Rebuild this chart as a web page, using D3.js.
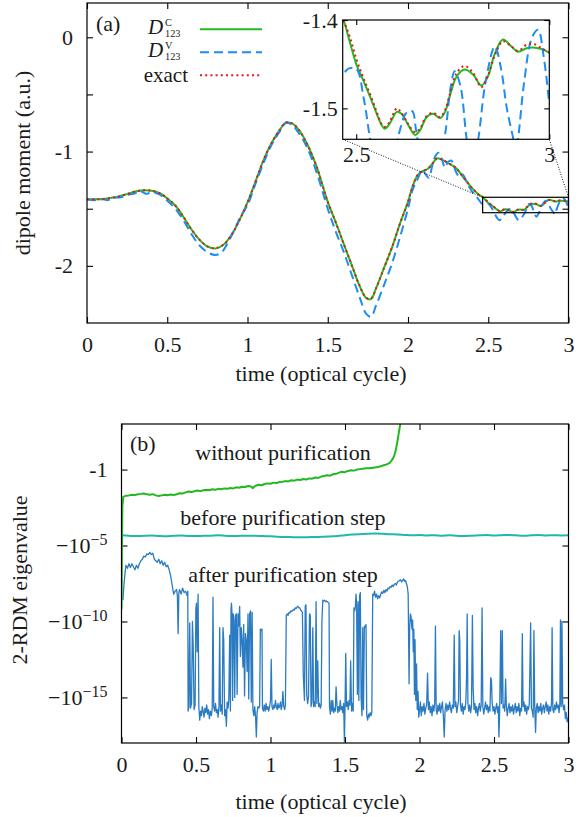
<!DOCTYPE html>
<html>
<head>
<meta charset="utf-8">
<script src="https://cdn.jsdelivr.net/npm/d3@7"></script>
<style>
  body { margin: 0; background: #fff; }
  text { font-family: "Liberation Serif", "Times New Roman", serif; fill: #1a1a1a; }
</style>
</head>
<body>
<svg id="chart" width="583" height="817"></svg>
<script>
// ---------- Panel (a): dipole moment vs time ----------
// time grid shared by D123^C and the exact curve
const timeC = [0,0.05,0.10,0.15,0.20,0.25,0.30,0.35,0.40,0.45,0.50,0.55,0.60,0.65,0.70,0.75,0.80,0.85,0.90,0.95,1.00,1.05,1.10,1.15,1.20,
  1.24,1.28,1.32,1.37,1.43,1.50,1.55,1.60,1.65,1.70,1.74,1.77,1.80,1.85,1.90,1.95,2.00,
  2.03,2.06,2.09,2.12,2.15,2.18,2.21,2.25,2.30,2.35,2.40,2.44,
  2.467,2.484,2.501,2.518,2.536,2.553,2.566,2.574,2.587,2.605,2.617,2.635,2.652,2.665,2.682,2.699,2.717,2.730,2.743,2.760,
  2.781,2.803,2.824,2.841,2.859,2.880,2.902,2.919,2.941,2.958,2.980,3.0];
const dipoleC = [-1.417,-1.418,-1.415,-1.405,-1.392,-1.372,-1.350,-1.338,-1.342,-1.362,-1.410,-1.472,-1.570,-1.680,-1.770,-1.830,-1.848,-1.815,-1.730,-1.600,-1.445,-1.262,-1.075,-0.925,-0.812,
  -0.745,-0.755,-0.810,-0.930,-1.130,-1.440,-1.620,-1.810,-1.995,-2.180,-2.282,-2.290,-2.200,-2.020,-1.840,-1.630,-1.440,
  -1.300,-1.205,-1.170,-1.155,-1.110,-1.060,-1.070,-1.100,-1.145,-1.235,-1.320,-1.375,
  -1.400,-1.426,-1.451,-1.468,-1.487,-1.506,-1.519,-1.523,-1.517,-1.504,-1.506,-1.519,-1.530,-1.525,-1.510,-1.506,-1.511,-1.504,-1.485,-1.464,
  -1.456,-1.462,-1.474,-1.464,-1.438,-1.422,-1.430,-1.436,-1.432,-1.431,-1.433,-1.437];
const dipoleExact = [-1.417,-1.418,-1.415,-1.405,-1.392,-1.372,-1.350,-1.338,-1.342,-1.362,-1.410,-1.472,-1.570,-1.680,-1.770,-1.830,-1.845,-1.815,-1.730,-1.600,-1.445,-1.262,-1.075,-0.925,-0.812,
  -0.745,-0.755,-0.810,-0.930,-1.130,-1.440,-1.620,-1.810,-1.995,-2.180,-2.280,-2.285,-2.200,-2.020,-1.840,-1.630,-1.440,
  -1.300,-1.205,-1.170,-1.155,-1.110,-1.060,-1.070,-1.100,-1.145,-1.235,-1.320,-1.375,
  -1.400,-1.420,-1.445,-1.465,-1.484,-1.504,-1.518,-1.521,-1.515,-1.500,-1.505,-1.518,-1.527,-1.523,-1.509,-1.505,-1.510,-1.502,-1.483,-1.460,
  -1.452,-1.460,-1.476,-1.463,-1.440,-1.424,-1.430,-1.435,-1.428,-1.427,-1.432,-1.437];

// D123^V on its own time grid
const timeV = [0,0.05,0.10,0.13,0.17,0.21,0.25,0.30,0.33,0.37,0.40,0.45,0.50,0.55,0.60,0.65,0.70,0.75,0.80,0.84,0.88,0.92,0.96,1.00,
  1.05,1.10,1.15,1.20,1.24,1.28,1.32,1.37,1.43,1.50,1.55,1.60,1.65,1.70,1.74,1.77,1.80,1.85,1.90,1.95,2.00,
  2.03,2.06,2.09,2.11,2.13,2.15,2.17,2.19,2.21,2.23,2.25,2.27,2.30,2.32,2.34,2.37,2.40,2.43,
  2.465,2.48,2.50,2.52,2.54,2.57,2.59,2.61,2.63,2.645,2.655,2.67,2.69,2.71,2.73,2.745,2.755,2.77,2.786,2.80,2.816,
  2.835,2.859,2.875,2.89,2.907,2.913,2.919,2.935,2.955,2.971,2.985,3.0];
const dipoleV = [-1.420,-1.425,-1.418,-1.425,-1.405,-1.400,-1.380,-1.365,-1.345,-1.370,-1.355,-1.375,-1.430,-1.500,-1.600,-1.720,-1.820,-1.880,-1.905,-1.880,-1.790,-1.680,-1.560,-1.470,
  -1.280,-1.100,-0.940,-0.825,-0.750,-0.770,-0.840,-0.960,-1.180,-1.500,-1.700,-1.880,-2.080,-2.280,-2.420,-2.445,-2.350,-2.170,-1.980,-1.750,-1.500,
  -1.330,-1.240,-1.160,-1.200,-1.230,-1.130,-1.040,-1.010,-1.060,-1.140,-1.090,-1.080,-1.180,-1.220,-1.200,-1.280,-1.350,-1.400,
  -1.460,-1.455,-1.455,-1.490,-1.545,-1.600,-1.575,-1.530,-1.505,-1.503,-1.525,-1.565,-1.600,-1.575,-1.530,-1.475,-1.458,-1.475,-1.535,-1.570,-1.535,
  -1.470,-1.430,-1.455,-1.500,-1.535,-1.550,-1.535,-1.470,-1.420,-1.411,-1.440,-1.495];

const xTicksA = [0,0.5,1,1.5,2,2.5,3];
const yTicksA = [0,-0.5,-1,-1.5,-2];
const xTicksInset = [2.5,3];
const yTicksInset = [-1.4,-1.5];

// ---------- Panel (b): 2-RDM eigenvalue (stored as log10 of |eigenvalue|; eigenvalues are negative) ----------
const withoutPurif = [[0.000,-9.2],[0.003,-5.0],[0.006,-2.4],[0.012,-1.80],[0.03,-1.72],[0.05,-1.70],[0.07,-1.66],[0.09,-1.68],[0.11,-1.62],[0.13,-1.60],
  [0.15,-1.57],[0.17,-1.63],[0.19,-1.66],[0.21,-1.62],[0.23,-1.70],[0.25,-1.74],[0.27,-1.70],[0.29,-1.66],[0.31,-1.69],[0.33,-1.64],[0.35,-1.67],
  [0.37,-1.62],[0.39,-1.56],[0.41,-1.58],[0.43,-1.50],[0.45,-1.44],[0.47,-1.47],[0.49,-1.43],[0.51,-1.38],[0.53,-1.42],[0.55,-1.36],[0.57,-1.33],
  [0.59,-1.36],[0.61,-1.30],[0.63,-1.33],[0.65,-1.27],[0.67,-1.30],[0.69,-1.24],[0.71,-1.27],[0.73,-1.21],[0.75,-1.24],[0.77,-1.17],[0.79,-1.20],
  [0.81,-1.13],[0.83,-1.15],[0.85,-1.08],[0.87,-1.12],[0.88,-1.22],[0.90,-1.06],[0.92,-1.00],[0.94,-1.03],[0.96,-0.95],[0.98,-0.91],[1.00,-0.93],
  [1.02,-0.86],[1.04,-0.89],[1.06,-0.82],[1.08,-0.80],[1.10,-0.76],[1.12,-0.78],[1.14,-0.70],[1.16,-0.73],[1.18,-0.66],[1.20,-0.69],[1.22,-0.62],
  [1.24,-0.65],[1.26,-0.58],[1.28,-0.60],[1.30,-0.52],[1.32,-0.55],[1.34,-0.46],[1.36,-0.42],[1.38,-0.38],[1.40,-0.40],[1.42,-0.31],[1.44,-0.28],
  [1.46,-0.20],[1.48,-0.14],[1.50,-0.17],[1.52,-0.09],[1.54,-0.04],[1.56,-0.07],[1.58,0.00],[1.60,0.03],[1.62,0.06],[1.64,0.09],[1.66,0.08],
  [1.68,0.11],[1.70,0.14],[1.72,0.17],[1.74,0.22],[1.76,0.28],[1.78,0.34],[1.80,0.44],[1.81,0.56],[1.82,0.70],[1.83,0.90],[1.84,1.25],
  [1.85,1.75],[1.86,2.35],[1.87,2.95],[1.875,3.3]];

const beforeStep = [[0.000,-4.33],[0.05,-4.36],[0.10,-4.38],[0.15,-4.36],[0.20,-4.34],[0.25,-4.37],[0.30,-4.39],[0.35,-4.36],[0.40,-4.34],
  [0.45,-4.37],[0.50,-4.38],[0.55,-4.36],[0.60,-4.35],[0.65,-4.33],[0.70,-4.36],[0.75,-4.38],[0.80,-4.36],[0.85,-4.35],[0.90,-4.36],
  [0.95,-4.38],[1.00,-4.39],[1.05,-4.42],[1.10,-4.44],[1.15,-4.45],[1.20,-4.46],[1.25,-4.45],[1.30,-4.44],[1.35,-4.43],[1.40,-4.40],
  [1.45,-4.37],[1.50,-4.32],[1.55,-4.28],[1.60,-4.25],[1.65,-4.22],[1.70,-4.21],[1.75,-4.22],[1.80,-4.25],[1.85,-4.27],[1.90,-4.30],
  [1.95,-4.33],[2.00,-4.31],[2.05,-4.34],[2.10,-4.32],[2.15,-4.35],[2.20,-4.33],[2.25,-4.36],[2.30,-4.38],[2.35,-4.35],[2.40,-4.33],
  [2.45,-4.31],[2.50,-4.34],[2.55,-4.32],[2.60,-4.30],[2.65,-4.33],[2.70,-4.35],[2.75,-4.33],[2.80,-4.31],[2.85,-4.34],[2.90,-4.32],
  [2.95,-4.34],[3.00,-4.33]];

const afterStep = [[0.010,-8.6],[0.014,-7.9],[0.018,-7.4],[0.024,-6.8],[0.03,-6.3],[0.04,-6.5],[0.05,-6.2],[0.06,-6.45],[0.07,-6.2],[0.08,-6.4],
  [0.09,-6.6],[0.10,-6.3],[0.11,-6.5],[0.12,-6.2],[0.13,-6.0],[0.14,-5.9],[0.15,-5.7],[0.16,-5.75],[0.17,-5.55],[0.18,-5.6],[0.19,-5.45],
  [0.20,-5.6],[0.21,-5.5],[0.22,-5.9],[0.23,-6.0],[0.24,-6.1],[0.25,-5.9],[0.26,-6.2],[0.27,-6.0],[0.28,-6.3],[0.29,-6.1],[0.30,-6.4],
  [0.31,-6.3],[0.32,-6.6],[0.33,-7.0],[0.34,-7.6],[0.35,-8.2],[0.36,-8.0],[0.37,-7.9],[0.375,-8.3],[0.38,-10.8],[0.385,-8.1],[0.39,-7.9],
  [0.40,-8.2],[0.41,-7.8],[0.42,-8.1],[0.43,-8.0],[0.44,-8.3],[0.445,-8.0],
  [0.447,-15.9],[0.452,-15.6],[0.458,-10.1],[0.463,-15.7],[0.470,-15.4],[0.476,-10.0],[0.481,-11.5],[0.487,-15.8],[0.494,-15.5],[0.499,-9.2],
  [0.503,-8.8],[0.508,-12.0],[0.514,-8.2],[0.519,-15.6],[0.525,-16.5],[0.531,-15.9],[0.537,-16.2],[0.542,-15.6],[0.548,-15.9],[0.554,-16.3],
  [0.560,-15.7],[0.566,-16.0],[0.572,-15.5],[0.578,-16.1],[0.584,-15.8],[0.590,-16.4],[0.596,-15.9],[0.603,-16.2],[0.609,-15.7],[0.614,-8.4],
  [0.619,-15.6],[0.625,-15.9],[0.631,-15.4],[0.637,-16.0],[0.643,-15.8],[0.648,-16.3],[0.654,-15.6],[0.659,-10.4],[0.664,-15.9],[0.670,-15.5],
  [0.676,-16.1],[0.681,-10.4],[0.686,-11.2],[0.692,-16.2],[0.698,-15.8],[0.704,-16.9],[0.709,-15.3],[0.715,-15.7],[0.720,-15.2],[0.726,-10.9],
  [0.731,-15.9],[0.735,-9.2],[0.738,-8.8],[0.742,-9.5],[0.746,-15.2],[0.750,-9.5],[0.755,-9.9],[0.760,-15.0],[0.765,-9.6],[0.771,-9.5],
  [0.776,-14.8],[0.782,-9.5],[0.787,-10.3],[0.793,-9.0],[0.798,-12.3],[0.804,-10.4],[0.809,-11.2],[0.815,-13.0],[0.820,-10.2],[0.826,-14.9],
  [0.832,-10.8],[0.838,-11.3],[0.843,-13.3],[0.849,-9.5],[0.854,-15.1],[0.860,-9.5],[0.866,-9.3],[0.871,-15.3],[0.877,-9.4],[0.882,-15.8],
  [0.888,-16.2],[0.894,-15.6],[0.900,-16.3],[0.905,-17.6],[0.910,-16.0],[0.916,-15.6],[0.921,-15.7],[0.927,-15.6],[0.932,-10.5],[0.938,-10.6],
  [0.943,-10.5],[0.946,-15.7],[0.952,-15.9],[0.958,-15.5],[0.964,-15.9],[0.970,-15.4],[0.976,-15.8],[0.982,-15.6],[0.988,-15.9],[0.994,-15.6],
  [1.000,-15.2],[1.005,-12.5],[1.010,-15.6],[1.016,-15.8],[1.022,-15.5],[1.028,-15.7],[1.033,-15.2],[1.039,-15.6],[1.045,-15.8],[1.050,-15.4],
  [1.056,-15.7],[1.061,-15.6],[1.067,-15.3],[1.072,-15.8],[1.078,-15.5],[1.083,-14.6],[1.089,-15.6],[1.095,-15.8],[1.100,-15.5],[1.106,-9.6],
  [1.112,-9.5],[1.118,-9.6],[1.124,-9.4],[1.130,-9.45],[1.136,-9.3],[1.142,-9.35],[1.148,-9.3],[1.154,-9.2],[1.160,-9.25],[1.166,-9.1],
  [1.172,-9.15],[1.178,-9.05],[1.184,-9.0],[1.190,-9.1],[1.196,-9.1],[1.202,-9.25],[1.208,-9.3],[1.214,-9.4],[1.220,-13.5],[1.228,-15.2],
  [1.233,-9.0],[1.238,-8.9],[1.243,-14.8],[1.249,-15.4],[1.255,-15.0],[1.262,-9.5],[1.267,-9.6],[1.272,-15.6],[1.278,-15.3],[1.284,-10.4],
  [1.289,-15.6],[1.295,-15.3],[1.300,-15.6],[1.306,-8.7],[1.311,-15.4],[1.317,-12.6],[1.323,-15.6],[1.329,-15.4],[1.335,-15.7],[1.340,-15.5],
  [1.345,-10.0],[1.351,-8.6],[1.357,-8.65],[1.363,-8.6],[1.369,-8.7],[1.375,-8.65],[1.381,-8.7],[1.387,-8.75],[1.393,-8.8],[1.396,-15.6],
  [1.402,-16.1],[1.407,-15.2],[1.413,-15.9],[1.418,-15.2],[1.424,-16.0],[1.430,-15.7],[1.435,-15.9],[1.440,-14.3],[1.446,-15.5],[1.452,-16.0],
  [1.457,-15.6],[1.463,-15.9],[1.468,-15.2],[1.474,-15.8],[1.480,-15.6],[1.485,-16.0],[1.491,-15.4],[1.496,-17.9],[1.500,-15.8],[1.505,-12.1],
  [1.510,-15.6],[1.516,-15.3],[1.522,-15.8],[1.527,-15.2],[1.533,-15.5],[1.538,-12.6],[1.544,-15.9],[1.549,-15.4],[1.555,-15.9],[1.560,-9.1],
  [1.565,-9.3],[1.570,-9.0],[1.574,-8.2],[1.578,-8.9],[1.583,-14.8],[1.588,-8.7],[1.593,-15.2],[1.598,-8.3],[1.603,-8.1],[1.608,-15.0],
  [1.614,-16.2],[1.619,-10.4],[1.624,-15.8],[1.630,-10.3],[1.636,-10.4],[1.641,-10.2],[1.646,-16.2],[1.652,-16.5],[1.658,-16.1],[1.663,-16.3],
  [1.669,-16.0],[1.675,-16.2],[1.680,-16.0],[1.686,-8.2],[1.692,-8.3],[1.698,-8.0],
  [1.705,-8.4],[1.712,-8.2],[1.719,-8.5],[1.726,-8.3],[1.733,-8.45],[1.740,-8.2],[1.747,-8.05],[1.754,-8.15],[1.761,-7.95],[1.768,-8.1],
  [1.775,-7.9],[1.782,-8.0],[1.789,-7.8],[1.796,-7.85],[1.803,-7.7],[1.810,-7.75],[1.817,-7.6],[1.824,-7.7],[1.831,-7.55],[1.838,-7.5],
  [1.845,-7.6],[1.852,-7.4],[1.859,-7.35],[1.866,-7.3],[1.873,-7.25],[1.880,-7.4],[1.887,-7.3],[1.894,-7.2],[1.900,-7.35],[1.906,-7.3],
  [1.912,-7.5],[1.918,-7.7],[1.924,-8.2],[1.930,-14.1],[1.934,-10.4],[1.939,-9.5],[1.944,-9.7],[1.949,-10.5],[1.954,-9.9],[1.958,-12.0],
  [1.962,-10.5],[1.966,-14.8],[1.970,-11.2],[1.975,-15.2],[1.980,-12.8],[1.985,-15.8],[1.990,-14.6],[1.995,-16.3],
  [2.000,-15.9],[2.006,-15.3],[2.012,-16.2],[2.018,-15.6],[2.024,-15.9],[2.030,-15.4],[2.036,-16.1],[2.042,-15.7],[2.048,-15.5],[2.054,-13.4],
  [2.060,-15.8],[2.066,-15.3],[2.072,-16.0],[2.078,-15.6],[2.084,-16.2],[2.090,-15.5],[2.096,-15.9],[2.102,-15.4],[2.107,-10.3],[2.112,-15.8],
  [2.118,-16.1],[2.124,-15.5],[2.130,-15.9],[2.136,-15.4],[2.142,-16.0],[2.148,-15.6],[2.154,-15.3],[2.160,-16.2],[2.166,-17.6],[2.172,-15.8],
  [2.178,-15.4],[2.184,-15.9],[2.190,-15.5],[2.196,-15.8],[2.202,-15.3],[2.208,-15.7],[2.214,-16.0],[2.220,-15.5],[2.227,-15.7],[2.233,-10.9],
  [2.238,-15.6],[2.244,-15.3],[2.250,-16.0],[2.256,-15.6],[2.262,-15.2],[2.266,-10.6],[2.270,-11.2],[2.275,-15.5],[2.281,-15.9],[2.287,-15.4],
  [2.293,-16.1],[2.299,-15.6],[2.305,-15.8],[2.311,-15.3],[2.316,-13.6],[2.320,-9.5],[2.325,-15.4],[2.331,-15.9],[2.337,-15.5],[2.343,-16.0],
  [2.349,-15.6],[2.355,-9.6],[2.360,-14.4],[2.366,-15.8],[2.372,-15.4],[2.378,-16.0],[2.384,-15.6],[2.390,-16.2],[2.396,-15.7],[2.402,-15.4],
  [2.408,-15.9],[2.414,-15.5],[2.420,-9.1],[2.425,-15.6],[2.431,-16.1],[2.437,-15.7],[2.443,-15.3],[2.449,-15.8],[2.455,-15.5],[2.461,-16.0],
  [2.467,-15.6],[2.473,-15.9],[2.478,-13.7],[2.483,-13.9],[2.488,-15.4],[2.494,-15.9],[2.500,-15.6],[2.506,-16.1],[2.512,-15.7],[2.518,-15.4],
  [2.524,-16.0],[2.529,-15.6],[2.533,-17.6],[2.538,-15.9],[2.545,-10.6],[2.550,-15.4],[2.556,-10.6],[2.561,-15.7],[2.567,-15.5],[2.572,-15.9],
  [2.578,-13.8],[2.583,-15.6],[2.589,-16.2],[2.595,-15.7],[2.601,-15.4],[2.607,-16.0],[2.613,-15.6],[2.619,-15.9],[2.625,-15.5],[2.631,-16.1],
  [2.637,-15.7],[2.643,-15.4],[2.649,-16.0],[2.655,-15.6],[2.661,-15.9],[2.667,-15.4],[2.673,-16.2],[2.679,-15.7],[2.685,-15.9],[2.690,-10.8],
  [2.695,-15.6],[2.701,-15.3],[2.707,-15.9],[2.713,-15.5],[2.719,-16.1],[2.725,-15.6],[2.731,-15.8],[2.737,-15.4],[2.742,-12.4],[2.746,-10.1],
  [2.751,-15.7],[2.757,-15.9],[2.763,-16.3],[2.768,-10.6],[2.773,-15.5],[2.779,-17.3],[2.784,-15.7],[2.790,-15.4],[2.796,-16.0],[2.802,-15.6],
  [2.808,-15.9],[2.814,-15.4],[2.820,-16.1],[2.826,-15.7],[2.832,-15.5],[2.838,-16.0],[2.844,-15.6],[2.850,-15.3],[2.856,-15.9],[2.862,-15.5],
  [2.868,-16.1],[2.874,-15.6],[2.880,-15.9],[2.886,-15.4],[2.890,-10.4],[2.895,-15.8],[2.901,-16.0],[2.907,-15.5],[2.913,-15.8],[2.919,-15.3],
  [2.925,-15.7],[2.931,-15.5],[2.937,-16.0],[2.942,-15.4],[2.946,-9.9],[2.951,-15.6],[2.956,-10.0],[2.961,-15.4],[2.967,-15.8],[2.973,-15.5],
  [2.979,-16.4],[2.985,-16.0],[2.991,-16.6],[3.000,-16.3]];

const xTicksB = [0,0.5,1,1.5,2,2.5,3];
const yTicksBExp = [0,-5,-10,-15];

// ---------- drawing ----------
const svg = d3.select("#chart");
const FS = 22;

const colC = "#1fbe1f", colV = "#1e8cf0", colExact = "#e8141c";
const colWithout = "#22b822", colBefore = "#1fb8b0", colAfter = "#2b7bc2";

function frame(g, x0, y0, x1, y1) {
  g.append("rect").attr("x", x0).attr("y", y0).attr("width", x1 - x0).attr("height", y1 - y0)
    .attr("fill", "none").attr("stroke", "#000").attr("stroke-width", 1.2);
}

function styleAxis(g) {
  g.select(".domain").remove();
  g.selectAll(".tick line").attr("stroke", "#000").attr("stroke-width", 1.1);
  g.selectAll(".tick text").attr("font-size", FS).attr("font-family", null).attr("fill", "#1a1a1a");
}

// ===== Panel (a) =====
const ax = d3.scaleLinear().domain([0, 3]).range([87, 568.5]);
const ay = d3.scaleLinear().domain([-2.5, 0.3]).range([323, 3]);
const gA = svg.append("g");

svg.append("clipPath").attr("id", "clipA").append("rect")
  .attr("x", 87).attr("y", 3).attr("width", 568.5 - 87).attr("height", 320);

gA.append("g").attr("transform", "translate(0,323)")
  .call(d3.axisBottom(ax).tickValues(xTicksA).tickFormat(d => String(d)).tickSizeInner(-6).tickSizeOuter(0).tickPadding(13))
  .call(styleAxis);
gA.append("g").attr("transform", "translate(0,3)")
  .call(d3.axisTop(ax).tickValues(xTicksA).tickFormat("").tickSizeInner(-6).tickSizeOuter(0))
  .call(styleAxis);
gA.append("g").attr("transform", "translate(87,0)")
  .call(d3.axisLeft(ay).tickValues(yTicksA).tickFormat(d => Number.isInteger(d) ? String(d) : "").tickSizeInner(-6).tickSizeOuter(0).tickPadding(14))
  .call(styleAxis);
gA.append("g").attr("transform", "translate(568.5,0)")
  .call(d3.axisRight(ay).tickValues(yTicksA).tickFormat("").tickSizeInner(-6).tickSizeOuter(0))
  .call(styleAxis);

const lineCA = d3.line().x(d => ax(d[0])).y(d => ay(d[1])).curve(d3.curveCatmullRom.alpha(0.5));
const seriesC = d3.zip(timeC, dipoleC);
const seriesExact = d3.zip(timeC, dipoleExact);
const seriesV = d3.zip(timeV, dipoleV);

const plotA = gA.append("g").attr("clip-path", "url(#clipA)");
plotA.append("path").datum(seriesC).attr("d", lineCA).attr("fill", "none").attr("stroke", colC).attr("stroke-width", 2);
plotA.append("path").datum(seriesV).attr("d", lineCA).attr("fill", "none").attr("stroke", colV).attr("stroke-width", 2).attr("stroke-dasharray", "9,5");
plotA.append("path").datum(seriesExact).attr("d", lineCA).attr("fill", "none").attr("stroke", colExact).attr("stroke-width", 2).attr("stroke-dasharray", "2,3.2");

frame(gA, 87, 3, 568.5, 323);

// zoom box and inset
const insetX0 = 2.465, insetX1 = 3, insetY0 = -1.535, insetY1 = -1.4;
gA.append("rect").attr("x", ax(insetX0)).attr("y", ay(insetY1))
  .attr("width", ax(insetX1) - ax(insetX0)).attr("height", ay(insetY0) - ay(insetY1))
  .attr("fill", "none").attr("stroke", "#000").attr("stroke-width", 1.2);

const ix = d3.scaleLinear().domain([insetX0, insetX1]).range([342.7, 549.3]);
const iy = d3.scaleLinear().domain([insetY0, insetY1]).range([139.3, 20]);

gA.append("line").attr("x1", ax(insetX0)).attr("y1", ay(insetY1)).attr("x2", ix(insetX0)).attr("y2", iy(insetY0))
  .attr("stroke", "#000").attr("stroke-width", 0.9).attr("stroke-dasharray", "1,1.6");
gA.append("line").attr("x1", ax(insetX1)).attr("y1", ay(insetY1)).attr("x2", ix(insetX1)).attr("y2", iy(insetY0))
  .attr("stroke", "#000").attr("stroke-width", 0.9).attr("stroke-dasharray", "1,1.6");

const gI = gA.append("g");
gI.append("rect").attr("x", 342.7).attr("y", 20).attr("width", 549.3 - 342.7).attr("height", 119.3).attr("fill", "#fff");
svg.append("clipPath").attr("id", "clipI").append("rect")
  .attr("x", 342.7).attr("y", 20).attr("width", 549.3 - 342.7).attr("height", 119.3);

const lineI = d3.line().x(d => ix(d[0])).y(d => iy(d[1])).curve(d3.curveCatmullRom.alpha(0.5));
const plotI = gI.append("g").attr("clip-path", "url(#clipI)");
plotI.append("path").datum(seriesC).attr("d", lineI).attr("fill", "none").attr("stroke", colC).attr("stroke-width", 2);
plotI.append("path").datum(seriesV).attr("d", lineI).attr("fill", "none").attr("stroke", colV).attr("stroke-width", 2).attr("stroke-dasharray", "9,5");
plotI.append("path").datum(seriesExact).attr("d", lineI).attr("fill", "none").attr("stroke", colExact).attr("stroke-width", 2).attr("stroke-dasharray", "2,3.2");

gI.append("g").attr("transform", "translate(0,139.3)")
  .call(d3.axisBottom(ix).tickValues(xTicksInset).tickFormat(d => String(d)).tickSizeInner(-5).tickSizeOuter(0).tickPadding(7))
  .call(styleAxis);
gI.append("g").attr("transform", "translate(0,20)")
  .call(d3.axisTop(ix).tickValues(xTicksInset).tickFormat("").tickSizeInner(-5).tickSizeOuter(0))
  .call(styleAxis);
gI.append("g").attr("transform", "translate(342.7,0)")
  .call(d3.axisLeft(iy).tickValues(yTicksInset).tickFormat(d => String(d)).tickSizeInner(-5).tickSizeOuter(0).tickPadding(5))
  .call(styleAxis);
gI.append("g").attr("transform", "translate(549.3,0)")
  .call(d3.axisRight(iy).tickValues(yTicksInset).tickFormat("").tickSizeInner(-5).tickSizeOuter(0))
  .call(styleAxis);
frame(gI, 342.7, 20, 549.3, 139.3);

// panel label and legend
gA.append("text").attr("x", 96).attr("y", 31).attr("font-size", FS).text("(a)");

const legend = [
  { sup: "C", color: colC, dash: null, y: 29.3 },
  { sup: "V", color: colV, dash: "9,5", y: 52.3 },
  { label: "exact", color: colExact, dash: "2,3.2", y: 75.3 }
];
const SCRIPT_FS = 10.3;
legend.forEach(L => {
  gA.append("line").attr("x1", 200).attr("x2", 262).attr("y1", L.y).attr("y2", L.y)
    .attr("stroke", L.color).attr("stroke-width", 2).attr("stroke-dasharray", L.dash);
  if (L.label) {
    gA.append("text").attr("x", 188).attr("y", L.y + 6.2).attr("text-anchor", "end").attr("font-size", 21).text(L.label);
  } else {
    // D with stacked superscript and subscript
    gA.append("text").attr("x", 148).attr("y", L.y + 4.4).attr("font-size", 21).attr("font-style", "italic").text("D");
    gA.append("text").attr("x", 165).attr("y", L.y - 3.6).attr("font-size", SCRIPT_FS).text(L.sup);
    gA.append("text").attr("x", 165).attr("y", L.y + 7.85).attr("font-size", SCRIPT_FS).text("123");
  }
});

gA.append("text").attr("x", 321).attr("y", 381).attr("text-anchor", "middle").attr("font-size", FS).text("time (optical cycle)");
gA.append("text").attr("transform", "translate(30,163) rotate(-90)").attr("text-anchor", "middle").attr("font-size", FS).text("dipole moment (a.u.)");

// ===== Panel (b) =====
const bx = d3.scaleLinear().domain([0, 3]).range([121.5, 568.5]);
const by = d3.scaleLog().domain([1e3, 1e-18]).range([424, 743]);
const gB = svg.append("g");

svg.append("clipPath").attr("id", "clipB").append("rect")
  .attr("x", 121.5).attr("y", 424).attr("width", 568.5 - 121.5).attr("height", 319);

gB.append("g").attr("transform", "translate(0,743)")
  .call(d3.axisBottom(bx).tickValues(xTicksB).tickFormat(d => String(d)).tickSizeInner(-6).tickSizeOuter(0).tickPadding(13))
  .call(styleAxis);
gB.append("g").attr("transform", "translate(0,424)")
  .call(d3.axisTop(bx).tickValues(xTicksB).tickFormat("").tickSizeInner(-6).tickSizeOuter(0))
  .call(styleAxis);

const yTickVals = yTicksBExp.map(e => Math.pow(10, e));
const yAxisB = gB.append("g").attr("transform", "translate(121.5,0)")
  .call(d3.axisLeft(by).tickValues(yTickVals).tickFormat("").tickSizeInner(-6).tickSizeOuter(0).tickPadding(14))
  .call(styleAxis);
// tick labels: negative eigenvalues shown as -1 and −10^n
yAxisB.selectAll(".tick").each(function (d) {
  const e = Math.round(Math.log10(d));
  const txt = d3.select(this).select("text").text(null).attr("font-size", FS);
  if (e === 0) {
    txt.text("-1");
  } else {
    txt.append("tspan").text("\u221210");
    txt.append("tspan").attr("font-size", 16).attr("dy", -8).text("\u2212" + Math.abs(e));
  }
});
gB.append("g").attr("transform", "translate(568.5,0)")
  .call(d3.axisRight(by).tickValues(yTickVals).tickFormat("").tickSizeInner(-6).tickSizeOuter(0))
  .call(styleAxis);

const lineB = d3.line().x(d => bx(d[0])).y(d => by(Math.pow(10, d[1])));
const plotB = gB.append("g").attr("clip-path", "url(#clipB)");
plotB.append("path").datum(afterStep).attr("d", lineB).attr("fill", "none").attr("stroke", colAfter).attr("stroke-width", 1.3).attr("stroke-linejoin", "round");
plotB.append("path").datum(beforeStep).attr("d", lineB.curve(d3.curveCatmullRom)).attr("fill", "none").attr("stroke", colBefore).attr("stroke-width", 2);
plotB.append("path").datum(withoutPurif).attr("d", lineB.curve(d3.curveLinear)).attr("fill", "none").attr("stroke", colWithout).attr("stroke-width", 2).attr("stroke-linejoin", "round");

frame(gB, 121.5, 424, 568.5, 743);

gB.append("text").attr("x", 130).attr("y", 451).attr("font-size", FS).text("(b)");
gB.append("text").attr("x", 283).attr("y", 460).attr("text-anchor", "middle").attr("font-size", FS).text("without purification");
gB.append("text").attr("x", 283).attr("y", 525).attr("text-anchor", "middle").attr("font-size", FS).text("before purification step");
gB.append("text").attr("x", 283).attr("y", 582).attr("text-anchor", "middle").attr("font-size", FS).text("after purification step");

gB.append("text").attr("x", 321).attr("y", 809).attr("text-anchor", "middle").attr("font-size", FS).text("time (optical cycle)");
gB.append("text").attr("transform", "translate(27,580) rotate(-90)").attr("text-anchor", "middle").attr("font-size", FS).text("2-RDM eigenvalue");
</script>
</body>
</html>
